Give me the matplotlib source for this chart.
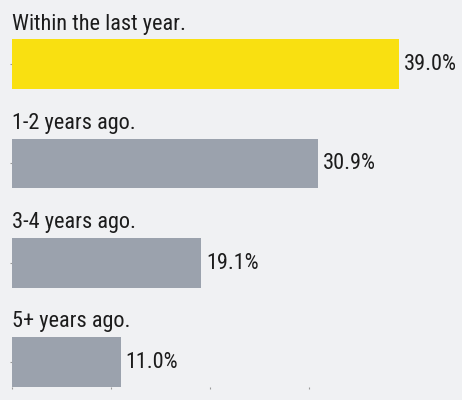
import matplotlib
matplotlib.use("Agg")
import matplotlib.pyplot as plt

categories = ["Within the last year.", "1-2 years ago.", "3-4 years ago.", "5+ years ago."]
values = [39.0, 30.9, 19.1, 11.0]
value_labels = ["39.0%", "30.9%", "19.1%", "11.0%"]
bar_colors = ["#F9E011", "#9BA2AD", "#9BA2AD", "#9BA2AD"]

BG = "#F0F1F3"
TEXT = "#1C1C1C"
FONT = ["Roboto Condensed", "Liberation Sans Narrow", "DejaVu Sans"]

plt.rcParams["font.family"] = FONT

W, H = 462, 400
unit = 99.3          # pixels per category row
bottom_px = 386.8    # pixel row of the axes bottom (from the top)
ymin, ymax = -0.62, 3.25

fig = plt.figure(figsize=(W / 100, H / 100), dpi=100, facecolor=BG)
ax_h = (ymax - ymin) * unit
ax = fig.add_axes([11.5 / W, (H - bottom_px) / H, (398.7 - 11.5) / W, ax_h / H])
ax.set_facecolor(BG)

ypos = list(range(len(categories)))
ax.barh(ypos, values, height=0.5, color=bar_colors, zorder=2)

ax.set_xlim(0, 39)
ax.set_ylim(ymax, ymin)

for y, cat, v, lab in zip(ypos, categories, values, value_labels):
    ax.annotate(cat, xy=(0, y - 0.25), xytext=(0, 7.0), textcoords="offset points",
                ha="left", va="baseline", fontsize=16, color=TEXT,
                annotation_clip=False)
    ax.annotate(lab, xy=(v, y), xytext=(3.6, -4.2), textcoords="offset points",
                ha="left", va="baseline", fontsize=16, color=TEXT,
                annotation_clip=False)

for s in ax.spines.values():
    s.set_visible(False)

ax.set_xticks([0, 10, 20, 30])
ax.set_yticks(ypos)
ax.tick_params(axis="both", length=1.2, width=0.8, color="#9A9A9A",
               labelbottom=False, labelleft=False)

fig.savefig("out.png", dpi=100, facecolor=BG)
